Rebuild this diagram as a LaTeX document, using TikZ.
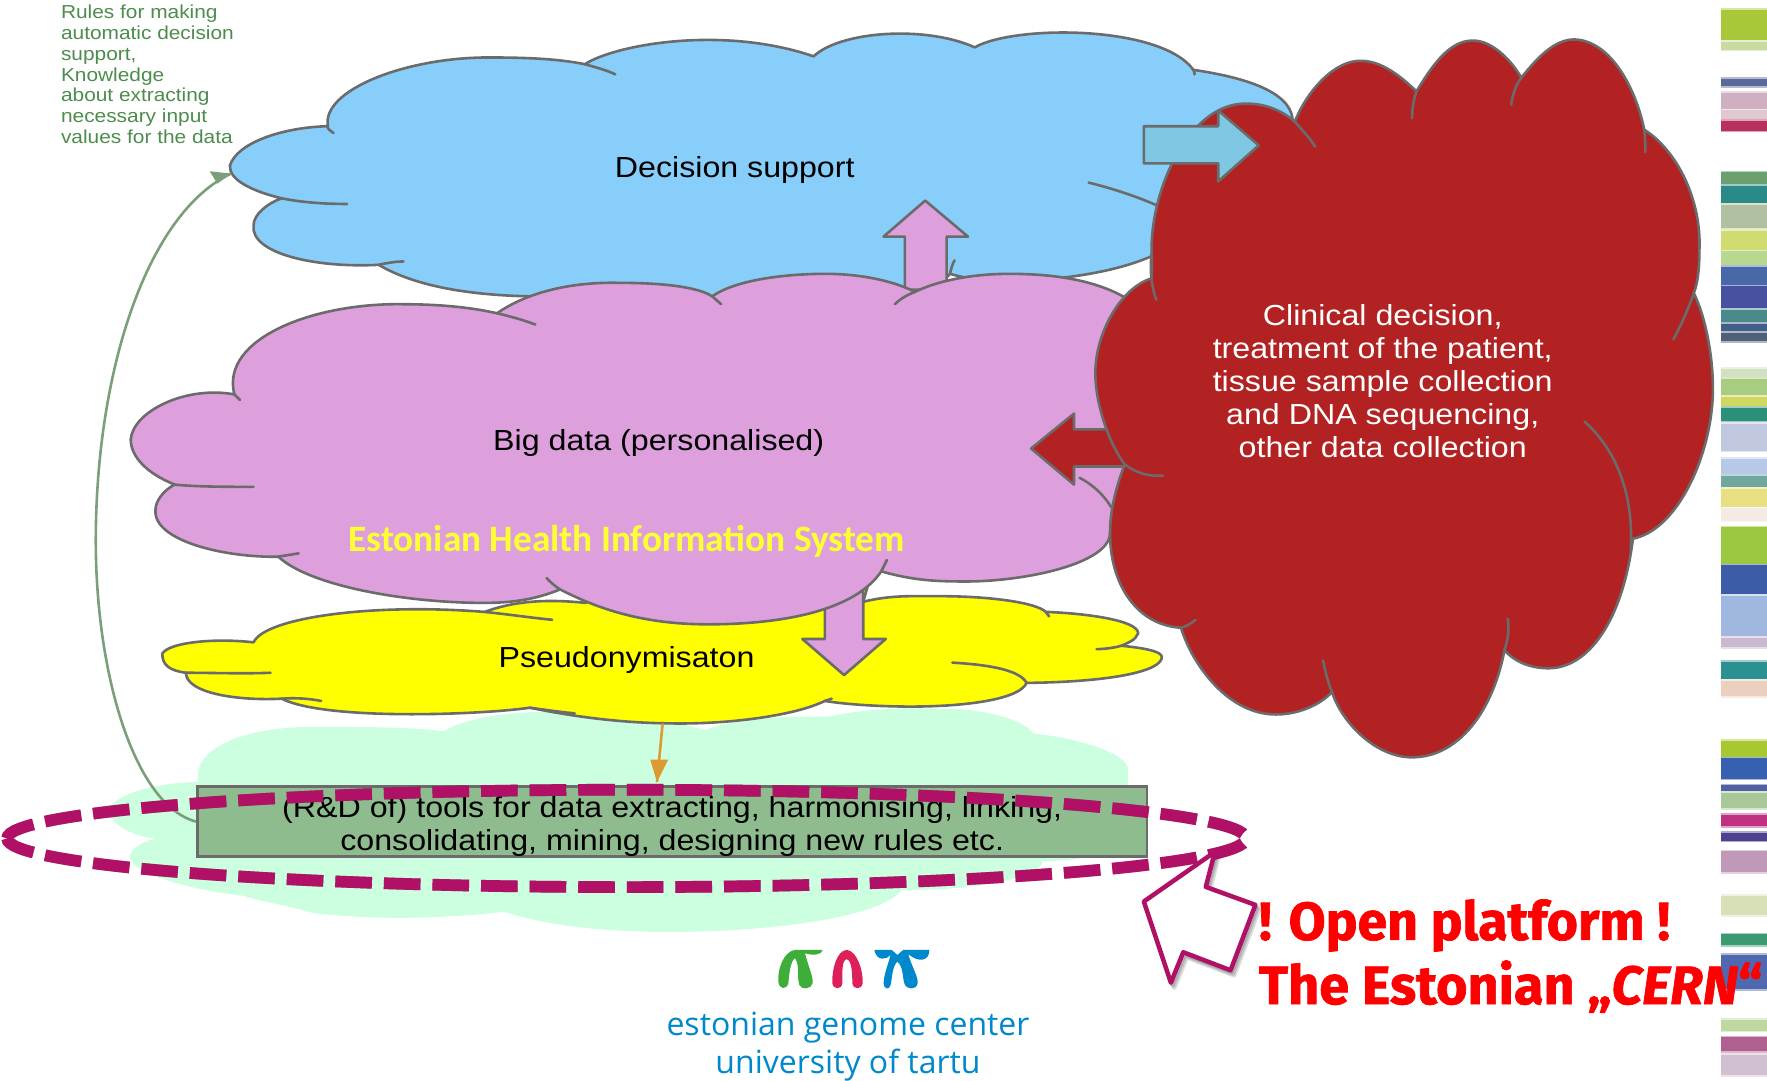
\documentclass[tikz,border=0pt]{standalone}
\usepackage{fontspec}
\usepackage{tikz}
\setmainfont[FakeStretch=1.11]{Liberation Sans}
\newfontfamily\callfont[BoldFeatures={FakeBold=1.3},BoldItalicFeatures={FakeBold=1.3}]{Fira Sans}
\newfontfamily\sysfont{Carlito}
\newfontfamily\centerfont{Open Sans}
\definecolor{cloudblue}{HTML}{87CEFA}
\definecolor{cloudpink}{HTML}{DDA0DD}
\definecolor{cloudred}{HTML}{B22222}
\definecolor{cloudpale}{HTML}{CCFFE0}
\definecolor{cloudyellow}{HTML}{FFFF00}
\definecolor{edgegray}{HTML}{6B6B6B}
\definecolor{boxgreen}{HTML}{8FBC8F}
\definecolor{ringpurple}{HTML}{B01066}
\definecolor{linegreen}{HTML}{7A9F7A}
\definecolor{textgreen}{HTML}{4C8C4C}
\definecolor{lineorange}{HTML}{DD9933}
\definecolor{genomeblue}{HTML}{0088CC}
\definecolor{logogreen}{HTML}{3DAE3A}
\definecolor{logored}{HTML}{DC2059}
\definecolor{arrowblue}{HTML}{7EC8E3}
\definecolor{ehisyellow}{HTML}{FFFF33}
\definecolor{callred}{HTML}{FF0000}

\begin{document}
\begin{tikzpicture}[x=1.127pt,y=1.127pt]
    \tikzstyle{every node}+=[inner sep=0pt]
    \tikzstyle{cloud}=[draw=edgegray,line width=2.6pt,line join=round]
    \tikzstyle{tail}=[draw=edgegray,line width=2.6pt,line cap=round]
    \tikzstyle{label}=[font=\fontsize{29}{33}\selectfont,align=center]
    \tikzstyle{ringline}=[line width=11.7pt,dash pattern=on 36.6pt off 12pt,dash phase=42.6pt]
    \useasboundingbox (0,0) rectangle (1568,-959);

    % colour strips on the right edge
    \foreach \ya/\yb/\col in {9/37/A8C83A,37/44/C8DCA0,70/76.5/5A6A9A,82.6/98/D0B0C0,98/107/E0C8D0,107/116/B83060,
      153/165/6AA070,165/182/2A8A88,182/202/B0C0A0,205/223/D0DC70,223/235.5/B8D890,237/254/4868A8,254/275/4850A0,
      275/287.5/4A8A8A,287.5/293.6/406088,295.5/303/506078,327/336/D0E0C0,336/352/A8CC80,352/361/D0D860,362/374/2A9078,
      376/400/C0C8E0,407/422/B8C8E8,422/433/70A8A0,434/451/E8E080,451/462/F4ECE4,468/501.6/9CC840,501.6/529/3C5CA8,
      529/566/A0B8E0,566/574/C8B8D0,587/602.5/2A9090,604/618/EBD0C0,657.6/673/A8C830,673/691/3860B0,697/703.5/5060A0,
      703.5/717/A8C898,723/733/C03080,739/746/504090,755.4/774/C098B8,795/812/D8E0B8,829/839/3A9A70,847/878/5068B0,
      905/914.5/C0D8A0,920.6/933/B06090,936/954/D0C0D0}{
      \definecolor{stripcol}{HTML}{\col}
      \fill [stripcol!45] (1527.5,-\ya+1.5) rectangle (1568,-\yb-1.5);
      \fill [stripcol] (1527.5,-\ya) rectangle (1568,-\yb);
    }

    % pale cloud at the bottom
    \fill [cloudpale] (97,-719) .. controls (100,-705) and (140,-694) .. (176,-694)
      .. controls (170,-665) and (215,-645) .. (277,-645) .. controls (320,-645) and (365,-645) .. (394,-649)
      .. controls (420,-632) and (480,-630) .. (520,-632) .. controls (560,-632) and (600,-640) .. (625,-648)
      .. controls (660,-635) and (700,-636) .. (735,-636) .. controls (770,-628) and (810,-628) .. (842,-629)
      .. controls (880,-630) and (910,-640) .. (917,-651) .. controls (960,-655) and (1002,-670) .. (1001,-683)
      -- (1001,-745) .. controls (985,-760) and (950,-764) .. (925,-764) .. controls (925,-778) and (870,-790) .. (800,-790)
      .. controls (780,-815) and (680,-827) .. (594,-827) .. controls (530,-827) and (480,-820) .. (447,-809)
      .. controls (400,-815) and (330,-817) .. (277,-810) .. controls (250,-802) and (230,-800) .. (217,-795)
      .. controls (170,-790) and (115,-775) .. (115,-760) .. controls (115,-755) and (125,-747) .. (138,-744)
      .. controls (115,-742) and (97,-730) .. (97,-719) -- cycle;

    % blue cloud
    \path [cloud,fill=cloudblue] (204,-147) .. controls (210,-127) and (250,-113) .. (291,-112)
      .. controls (285,-80) and (360,-51) .. (433,-51) .. controls (465,-51) and (495,-52) .. (519,-57)
      .. controls (545,-40) and (640,-22) .. (722,-50) .. controls (745,-28) and (820,-22) .. (865,-42)
      .. controls (900,-22) and (1030,-22) .. (1059,-62) .. controls (1100,-68) and (1145,-80) .. (1147,-106)
      -- (1147,-200) -- (1027,-225) .. controls (1000,-238) and (960,-247) .. (900,-250)
      .. controls (880,-250) and (860,-248) .. (843,-243) -- (800,-290) -- (480,-290) -- (471,-263)
      .. controls (420,-262) and (370,-255) .. (336,-235) .. controls (280,-238) and (222,-225) .. (225,-200)
      .. controls (225,-190) and (238,-180) .. (250,-176) .. controls (225,-170) and (203,-160) .. (204,-147) -- cycle;
    \draw [tail] (291,-112) .. controls (290,-114) and (293,-116) .. (296,-118);
    \draw [tail] (519,-57) .. controls (530,-60) and (540,-63) .. (546,-66);
    \draw [tail] (250,-176) .. controls (270,-180) and (290,-181) .. (308,-181);
    \draw [tail] (336,-235) .. controls (345,-233) and (352,-232) .. (358,-232);
    \draw [tail] (1059,-62) .. controls (1060,-63) and (1060,-65) .. (1060,-66);
    \draw [tail] (966,-162) .. controls (990,-168) and (1010,-175) .. (1026,-182);
    \draw [tail] (843,-243) .. controls (844,-238) and (845,-235) .. (847,-231);

    % yellow cloud
    \path [cloud,fill=cloudyellow] (144,-580) .. controls (150,-570) and (190,-566) .. (225,-570)
      .. controls (235,-548) and (330,-535) .. (430,-543) .. controls (460,-532) and (490,-532) .. (520,-535)
      -- (520,-520) -- (770,-520) -- (766,-534) .. controls (790,-528) and (810,-529) .. (833,-529)
      .. controls (880,-529) and (920,-535) .. (928,-543) .. controls (960,-544) and (1010,-550) .. (1010,-562)
      .. controls (1008,-568) and (1000,-571) .. (995,-573) .. controls (1015,-575) and (1031,-578) .. (1031,-583)
      .. controls (1031,-595) and (990,-605) .. (911,-606)
      .. controls (905,-620) and (860,-627) .. (808,-627) .. controls (780,-627) and (750,-625) .. (732,-622)
      .. controls (705,-635) and (650,-642) .. (604,-642) .. controls (560,-642) and (520,-638) .. (470,-628)
      .. controls (430,-634) and (290,-640) .. (250,-620) .. controls (210,-622) and (165,-615) .. (165,-597)
      .. controls (150,-595) and (144,-590) .. (144,-580) -- cycle;
    \draw [tail] (430,-543) .. controls (450,-545) and (470,-548) .. (490,-550);
    \draw [tail] (928,-543) -- (931,-547);
    \draw [tail] (995,-573) .. controls (988,-575) and (980,-576) .. (973,-576);
    \draw [tail] (911,-606) .. controls (905,-595) and (880,-590) .. (845,-588);
    \draw [tail] (165,-597) .. controls (190,-597) and (215,-598) .. (240,-597);
    \draw [tail] (250,-620) .. controls (262,-619) and (275,-620) .. (285,-622);
    \draw [tail] (470,-628) .. controls (485,-630) and (498,-632) .. (510,-633);
    \draw [tail] (732,-622) -- (738,-620);

    % arrows that go under the pink cloud
    \draw [cloud,fill=cloudpink] (803,-257) -- (803,-210) -- (784,-210) -- (821,-178) -- (859,-210) -- (840,-210) -- (840,-257) -- cycle;
    \draw [cloud,fill=cloudpink] (732,-525) -- (732,-567) -- (712,-567) -- (749,-599) -- (786,-567) -- (766,-567) -- (766,-525) -- cycle;

    % pink cloud
    \path [cloud,fill=cloudpink] (116,-390) .. controls (118,-365) and (165,-342) .. (208,-350)
      .. controls (195,-300) and (280,-268) .. (360,-270) .. controls (385,-270) and (415,-272) .. (441,-278)
      .. controls (470,-258) and (510,-250) .. (550,-251) .. controls (590,-251) and (620,-255) .. (632,-263)
      .. controls (650,-250) and (690,-243) .. (733,-243) .. controls (760,-243) and (790,-248) .. (812,-259)
      .. controls (830,-250) and (860,-243) .. (896,-243) .. controls (940,-243) and (975,-250) .. (1000,-265)
      -- (1050,-300) -- (1050,-473) -- (985,-473) .. controls (985,-500) and (910,-516) .. (857,-516)
      .. controls (830,-516) and (810,-515) .. (782,-507) .. controls (760,-540) and (700,-554) .. (628,-554)
      .. controls (570,-554) and (530,-540) .. (497,-523) .. controls (480,-530) and (460,-535) .. (430,-535)
      .. controls (360,-535) and (275,-520) .. (247,-494) .. controls (200,-495) and (135,-480) .. (138,-452)
      .. controls (138,-445) and (145,-435) .. (155,-430) .. controls (130,-420) and (116,-405) .. (116,-390) -- cycle;
    \draw [tail] (208,-350) -- (213,-355);
    \draw [tail] (441,-278) .. controls (450,-280) and (465,-284) .. (475,-288);
    \draw [tail] (632,-263) -- (640,-270);
    \draw [tail] (812,-259) .. controls (804,-262) and (798,-266) .. (794,-270);
    \draw [tail] (155,-430) .. controls (175,-432) and (200,-432) .. (225,-432);
    \draw [tail] (247,-494) .. controls (252,-493) and (260,-492) .. (265,-491);
    \draw [tail] (497,-523) .. controls (492,-520) and (488,-516) .. (485,-513);
    \draw [tail] (782,-507) -- (787,-497);
    \draw [tail] (958,-424) .. controls (970,-430) and (980,-440) .. (986,-450);

    % arrow under the red cloud
    \draw [cloud,fill=cloudred] (1010,-381) -- (953,-381) -- (953,-367) -- (915,-398) -- (953,-430) -- (953,-414) -- (1010,-414);

    % red cloud
    \path [cloud,fill=cloudred] (1022,-225) .. controls (1020,-170) and (1055,-90) .. (1107,-92)
      .. controls (1125,-92) and (1140,-100) .. (1149,-108) .. controls (1160,-80) and (1185,-53) .. (1208,-54)
      .. controls (1230,-54) and (1250,-75) .. (1257,-81) .. controls (1270,-60) and (1285,-36) .. (1307,-36)
      .. controls (1325,-36) and (1342,-55) .. (1350,-69) .. controls (1365,-50) and (1380,-35) .. (1397,-35)
      .. controls (1430,-36) and (1452,-80) .. (1459,-115) .. controls (1490,-135) and (1510,-180) .. (1508,-222)
      .. controls (1508,-245) and (1505,-255) .. (1503,-260) .. controls (1515,-285) and (1520,-320) .. (1520,-345)
      .. controls (1520,-400) and (1490,-470) .. (1449,-478) .. controls (1440,-550) and (1410,-593) .. (1374,-593)
      .. controls (1355,-593) and (1342,-585) .. (1335,-577) .. controls (1325,-630) and (1295,-672) .. (1253,-672)
      .. controls (1220,-672) and (1190,-640) .. (1182,-614) .. controls (1170,-627) and (1150,-634) .. (1132,-634)
      .. controls (1090,-634) and (1058,-590) .. (1048,-557) .. controls (1010,-555) and (985,-520) .. (985,-473)
      .. controls (985,-450) and (992,-428) .. (998,-412) .. controls (985,-395) and (972,-360) .. (972,-331)
      .. controls (972,-295) and (995,-255) .. (1022,-247) -- cycle;
    \draw [tail] (1022,-225) .. controls (1020,-240) and (1022,-255) .. (1026,-266);
    \draw [tail] (1149,-108) .. controls (1155,-115) and (1162,-122) .. (1167,-130);
    \draw [tail] (1257,-81) .. controls (1254,-90) and (1253,-98) .. (1253,-105);
    \draw [tail] (1350,-69) .. controls (1345,-75) and (1342,-85) .. (1341,-93);
    \draw [tail] (1459,-115) .. controls (1460,-122) and (1460,-128) .. (1460,-135);
    \draw [tail] (1503,-260) .. controls (1498,-275) and (1490,-292) .. (1485,-301);
    \draw [tail] (1447,-488) .. controls (1450,-440) and (1435,-400) .. (1406,-374);
    \draw [tail] (1335,-577) .. controls (1339,-565) and (1339,-557) .. (1338,-549);
    \draw [tail] (1182,-614) .. controls (1178,-605) and (1176,-595) .. (1174,-586);
    \draw [tail] (1048,-557) .. controls (1052,-556) and (1056,-554) .. (1061,-550);
    \draw [tail] (998,-412) .. controls (1008,-420) and (1020,-423) .. (1032,-422);

    % arrow on top of the red cloud
    \draw [cloud,fill=arrowblue] (1015,-112) -- (1081,-112) -- (1081,-98) -- (1117,-129) -- (1081,-161) -- (1081,-145) -- (1015,-145) -- cycle;

    % tools box with its two arrows
    \coordinate (bluetip) at (205,-154);
    \coordinate (yellowfoot) at (588,-642);
    \coordinate (toolstip) at (583,-694);
    \node (tools) [draw=edgegray,line width=2.6pt,fill=boxgreen,minimum width=950pt,minimum height=70pt,label] at (596.5,-729) {\rule{0pt}{30pt}(R\&D of) tools for data extracting, harmonising, linking,\\consolidating, mining, designing new rules etc.};
    \draw [linegreen,line width=2.6pt] (tools.west) .. controls (120,-715) and (85,-600) .. (85,-480) .. controls (85,-330) and (130,-190) .. (bluetip);
    \fill [linegreen] (bluetip) -- (186,-152) -- (193,-163) -- cycle;
    \draw [lineorange,line width=2.6pt] (yellowfoot) -- (toolstip);
    \fill [lineorange] (toolstip) -- (577,-674) -- (593,-674) -- cycle;

    % dashed ring and pointer, each with a soft shadow
    \coordinate (ringeast) at (1105.7,-744);
    \foreach \sh in {1.5,3,4.5}{
      \draw [ringline,black,opacity=0.13,shift={(\sh*0.7,-\sh)}] (ringeast) arc [start angle=0,end angle=180,x radius=549.7,y radius=43.2];
      \draw [ringline,black,opacity=0.13,shift={(\sh*0.7,-\sh)}] (ringeast) arc [start angle=0,end angle=-180,x radius=549.7,y radius=43.2];
      \draw [line width=4.5pt,line join=round,black,opacity=0.13,shift={(\sh*0.7,-\sh)}] (1078,-756) -- (1015,-800) -- (1039,-872) -- (1050,-845) -- (1092,-861) -- (1114,-803) -- (1070,-787) -- cycle;
    }
    \draw [ringline,ringpurple] (ringeast) arc [start angle=0,end angle=180,x radius=549.7,y radius=43.2];
    \draw [ringline,ringpurple] (ringeast) arc [start angle=0,end angle=-180,x radius=549.7,y radius=43.2];
    \draw [line width=4.5pt,line join=round,ringpurple,fill=white] (1078,-756) -- (1015,-800) -- (1039,-872) -- (1050,-845) -- (1092,-861) -- (1114,-803) -- (1070,-787) -- cycle;

    % logo
    \begin{scope}[shift={(567.9,-816.3)},scale=0.2958]
      \fill [logogreen] (415,-185) .. controls (412,-150) and (430,-95) .. (465,-90) -- (548,-90) .. controls (545,-105) and (520,-108) .. (495,-100)
        .. controls (505,-140) and (520,-170) .. (518,-190) .. controls (515,-207) and (485,-212) .. (478,-195) .. controls (470,-170) and (480,-135) .. (465,-115)
        .. controls (450,-125) and (448,-165) .. (445,-190) .. controls (440,-210) and (418,-210) .. (415,-185) -- cycle;
      \fill [logored] (577,-190) .. controls (575,-150) and (590,-92) .. (620,-90) .. controls (650,-92) and (670,-150) .. (668,-190)
        .. controls (665,-210) and (640,-210) .. (637,-190) .. controls (637,-160) and (635,-120) .. (620,-118) .. controls (605,-120) and (607,-160) .. (607,-190)
        .. controls (605,-210) and (580,-210) .. (577,-190) -- cycle;
      \fill [genomeblue] (703,-90) -- (755,-90) -- (772,-105) -- (790,-90) -- (868,-90) .. controls (868,-125) and (835,-128) .. (805,-103)
        .. controls (815,-140) and (835,-170) .. (833,-190) .. controls (830,-210) and (800,-212) .. (793,-190) .. controls (787,-170) and (790,-140) .. (772,-125)
        .. controls (757,-140) and (757,-170) .. (752,-195) .. controls (748,-210) and (732,-210) .. (731,-190) .. controls (730,-170) and (745,-130) .. (752,-105)
        .. controls (740,-120) and (710,-125) .. (703,-90) -- cycle;
    \end{scope}

    % texts
    \node (rules) [anchor=north west,align=left,text=textgreen,font=\fontsize{18.8}{20.9}\selectfont] at (54,-4) {Rules for making\\automatic decision\\support,\\Knowledge\\about extracting\\necessary input\\values for the data};
    \node (decision) [label] at (652,-150.5) {Decision support};
    \node (bigdata) [label] at (584.5,-393.5) {Big data (personalised)};
    \node (ehis) [text=ehisyellow,font=\sysfont\bfseries\fontsize{37.3}{40}\selectfont] at (556,-480) {Estonian Health Information System};
    \node (pseudo) [label] at (556,-585.5) {Pseudonymisaton};
    \node (clinical) [label,text=white] at (1227,-338) {Clinical decision,\\treatment of the patient,\\tissue sample collection\\and DNA sequencing,\\other data collection};
    \node (genome) [align=center,text=genomeblue,font=\centerfont\fontsize{32}{38}\selectfont] at (752.5,-929) {estonian genome center\\university of tartu};
    \node (open) [anchor=base west,text=callred,font=\callfont\bfseries\fontsize{53.5}{60}\selectfont] at (1117,-834) {! Open platform !};
    \node (cern) [anchor=base west,text=callred,font=\callfont\bfseries\fontsize{54}{60}\selectfont] at (1117,-891) {The Estonian „\textit{CERN}“};
\end{tikzpicture}
\end{document}
